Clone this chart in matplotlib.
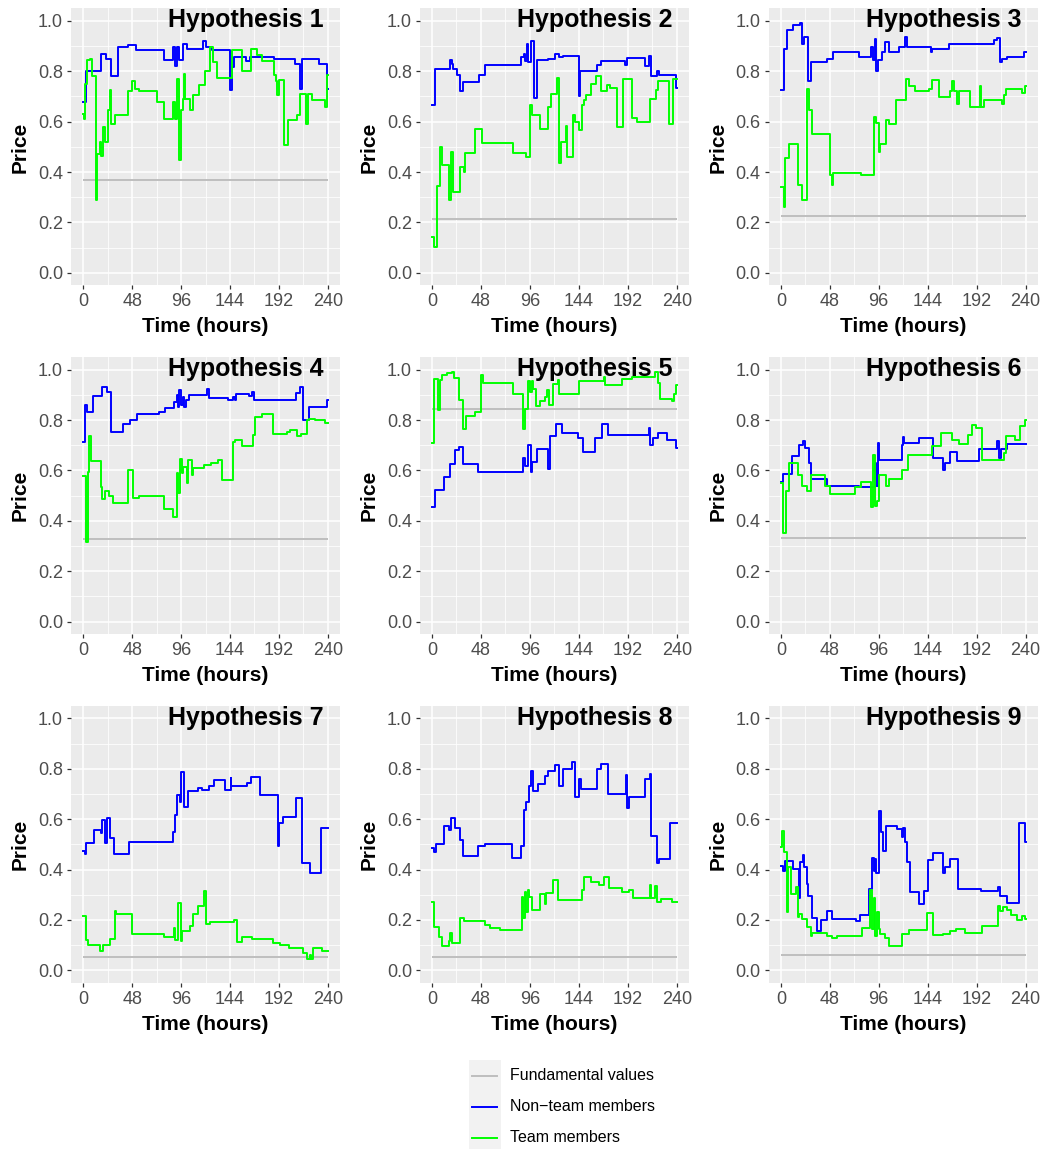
import matplotlib

matplotlib.use("Agg")
import matplotlib.pyplot as plt
from matplotlib.ticker import MultipleLocator

plt.rcParams["font.family"] = ["Liberation Sans", "DejaVu Sans"]

# (hour at which the price level starts, price)
H1_NONTEAM = [(0, .68), (2.6, .80), (17, .87), (22, .85), (27, .78), (34, .897), (44, .906), (52, .886),
              (79, .844), (88, .897), (90, .82), (92, .897), (94, .844), (98, .91), (102, .89), (117, .92),
              (120, .897), (126, .884), (144, .725), (145.5, .817), (148, .857), (160, .84), (164, .857),
              (187, .85), (208, .83), (213, .73), (215, .85), (231, .83), (239, .73)]
H1_TEAM = [(0, .63), (1, .61), (2, .75), (4, .844), (7, .85), (9, .78), (12.5, .29), (14, .47), (16, .52),
           (17, .465), (19, .58), (21, .52), (24.5, .645), (26, .725), (27.5, .59), (31, .626), (43.5, .72),
           (48, .76), (51, .73), (55, .72), (72, .68), (79, .61), (88.5, .68), (90.5, .61), (91.5, .77),
           (94, .447), (96, .645), (98, .69), (99, .79), (100, .69), (105, .645), (108, .705), (114, .745),
           (119, .80), (124.5, .897), (127, .837), (131, .775), (146, .884), (155.5, .80), (165, .89),
           (170, .865), (175, .84), (187, .785), (189, .76), (190, .705), (192, .765), (197, .507),
           (201, .606), (210, .625), (213, .71), (219, .59), (220, .71), (224, .685), (237, .66), (239.5, .785)]

H2_NONTEAM = [(0, .668), (2.6, .81), (18, .843), (19.5, .83), (21, .81), (24.5, .787), (27, .72), (30, .757),
              (46, .787), (52, .823), (87.5, .858), (90, .87), (91, .84), (93, .907), (94.5, .835), (97.5, .92),
              (100.5, .695), (102.5, .843), (113.5, .85), (121, .87), (124.5, .855), (128, .862), (144.5, .70),
              (145.5, .803), (162, .825), (165.5, .84), (189, .826), (191, .854), (208.5, .82), (212.5, .86),
              (214.5, .783), (221, .80), (222.5, .787), (239.5, .734)]
H2_TEAM = [(0, .143), (2, .104), (4.5, .343), (8, .50), (9.5, .43), (17, .29), (19, .48), (20.5, .32),
           (27.5, .42), (31, .40), (32, .475), (42.5, .57), (49, .515), (79, .475), (92.5, .46), (96.5, .668),
           (98, .628), (106, .57), (113.5, .66), (117, .708), (122.5, .774), (124.5, .435), (126.5, .518),
           (131, .584), (132.5, .458), (138.5, .628), (140, .60), (144.5, .568), (147, .668), (149, .685),
           (151, .704), (155.5, .75), (161, .783), (165.5, .72), (171.5, .746), (175, .735), (181.5, .58),
           (187, .768), (196.5, .615), (201, .60), (213.5, .69), (220, .725), (222, .76), (232, .59),
           (236.5, .768)]

H3_NONTEAM = [(0, .725), (3, .89), (6, .963), (11.5, .985), (18.5, .99), (21, .91), (22.5, .935), (26.5, .76),
              (30, .837), (45, .85), (51, .877), (77, .857), (88.5, .897), (90, .845), (92, .93), (93.5, .80),
              (95.5, .845), (99, .877), (102, .917), (106, .877), (115.5, .897), (121.5, .937), (124, .897),
              (147, .877), (148.5, .89), (164.5, .91), (209, .925), (212.5, .934), (214.5, .837), (216.5, .85),
              (222, .857), (239, .877)]
H3_TEAM = [(0, .341), (3, .26), (4.5, .454), (8, .513), (17, .35), (20.5, .288), (26, .728), (27.5, .645),
           (30.5, .553), (48, .388), (50, .348), (51.5, .397), (79, .388), (91, .62), (93.5, .595), (96, .48),
           (97, .513), (103, .606), (106, .59), (113, .685), (122.5, .77), (125.5, .74), (132, .722),
           (145, .73), (148, .767), (155, .698), (165.5, .722), (168, .76), (170, .722), (173, .67),
           (174.5, .722), (186, .659), (195.5, .74), (196.5, .659), (199, .688), (217, .67), (219, .705),
           (221, .73), (237, .715), (239.5, .74)]

H4_NONTEAM = [(0, .713), (2, .859), (3.5, .832), (10, .894), (18, .93), (23.5, .91), (27, .753), (39, .783),
              (46, .80), (53, .823), (74, .832), (80, .848), (89, .87), (91.5, .9), (92.5, .85), (94, .92),
              (95.5, .86), (97.5, .89), (98.5, .85), (101, .88), (103.5, .9), (121, .924), (123.5, .888),
              (142, .878), (146.5, .89), (148.5, .878), (149.5, .905), (163, .895), (165.5, .91), (168, .881),
              (209, .908), (213, .93), (215.5, .80), (221, .852), (239.5, .878)]
H4_TEAM = [(0, .577), (2.5, .317), (5, .594), (6, .736), (8, .638), (17, .535), (18.5, .485), (21, .52),
           (25, .50), (29.5, .472), (43.5, .60), (48.5, .49), (55, .50), (79, .445), (88.5, .416), (91.5, .59),
           (93, .51), (95, .647), (96.5, .59), (98, .614), (101.5, .55), (103, .64), (106.5, .58), (108, .61),
           (118.5, .62), (125, .63), (132, .643), (136.5, .561), (146.5, .713), (149, .72), (155.5, .696),
           (166.5, .74), (168.5, .812), (175, .823), (186.5, .744), (200, .753), (203, .76), (210, .736),
           (214, .744), (219.5, .80), (221, .806), (227.5, .80), (237.5, .789)]

H5_NONTEAM = [(0, .453), (3, .524), (11.5, .572), (18, .624), (23, .683), (26, .694), (30, .625), (45.5, .593),
              (89.5, .651), (91, .617), (94.5, .70), (97, .595), (98, .634), (103, .684), (114, .607),
              (116, .736), (121.5, .783), (127.5, .748), (143.5, .727), (148.5, .674), (160, .73), (167, .783),
              (173, .74), (212.5, .77), (214, .70), (216.5, .73), (222, .75), (230, .72), (239.5, .69)]
H5_TEAM = [(0, .709), (2, .964), (6, .839), (8, .96), (10, .978), (14.5, .985), (20, .99), (22, .965),
           (26, .88), (30.5, .766), (33, .815), (42.5, .83), (48, .98), (50, .948), (79, .905), (89.5, .766),
           (91, .845), (94.5, .955), (96, .91), (98, .955), (99, .925), (102, .855), (106, .875), (111, .89),
           (112.5, .92), (114.5, .86), (118.5, .942), (124, .96), (125, .904), (144.5, .955), (168.5, .97),
           (170, .938), (186.5, .962), (196, .971), (219, .99), (221.5, .945), (223.5, .885), (235.5, .875),
           (237, .905), (239.5, .938)]

H6_NONTEAM = [(0, .553), (2.5, .587), (10.5, .657), (18, .70), (21.5, .716), (23.5, .69), (28, .63),
              (30, .564), (45, .537), (76.5, .533), (92.5, .63), (93.5, .537), (95, .71), (96.5, .643),
              (118.5, .70), (119.5, .733), (121, .707), (136, .73), (149, .65), (159.5, .60), (161, .63),
              (166, .674), (173, .638), (194, .686), (212, .716), (214, .65), (216, .686), (222, .705)]
H6_TEAM = [(0, .551), (2.5, .35), (5.5, .518), (8, .63), (17, .58), (20.5, .538), (26, .52), (29.5, .58),
           (43.5, .538), (48.5, .505), (73, .536), (78.5, .555), (88.5, .455), (90, .66), (92.5, .46),
           (94, .48), (96.5, .58), (103.5, .54), (106.5, .566), (119, .60), (125, .66), (148, .695),
           (157, .75), (168, .72), (174.5, .705), (184, .74), (187.5, .78), (191, .77), (197, .643),
           (218.5, .67), (221, .735), (230, .722), (235, .777), (239.5, .80)]

H7_NONTEAM = [(0, .472), (1.5, .46), (3, .507), (10.5, .555), (17, .545), (18, .597), (21, .505), (23.5, .604),
              (26.5, .525), (30, .462), (45, .511), (52, .508), (88.5, .55), (90, .615), (92, .696),
              (94.5, .67), (96, .789), (99, .647), (103, .713), (113, .725), (116.5, .715), (123, .73),
              (128, .756), (139, .715), (144.5, .765), (145, .73), (160.5, .742), (165, .769), (173.5, .696),
              (191.5, .494), (192.5, .585), (196, .608), (209, .683), (215, .425), (222, .386), (233.5, .564)]
H7_TEAM = [(0, .217), (3, .122), (5, .102), (16.5, .075), (19, .102), (26, .124), (31, .234), (32, .223),
           (48, .145), (79, .132), (89, .168), (90.5, .122), (93, .267), (95.5, .115), (96.5, .157),
           (105, .176), (107.5, .224), (113, .254), (118.5, .313), (120, .185), (124.5, .19), (147.5, .198),
           (150.5, .112), (155.5, .132), (165.5, .125), (186.5, .11), (193, .102), (201.5, .088),
           (215.5, .069), (219.5, .045), (222.5, .062), (223, .045), (225.5, .088), (234, .075)]

H8_NONTEAM = [(0, .485), (1.5, .47), (4, .502), (12, .571), (17, .555), (18.5, .604), (23, .564), (27, .518),
              (30.5, .455), (45.5, .495), (52, .502), (78.5, .444), (87.5, .495), (90.5, .636), (92, .668),
              (95, .73), (97.5, .793), (99, .713), (103.5, .74), (111, .77), (114, .79), (121, .815),
              (124.5, .73), (128.5, .80), (137.5, .828), (140, .687), (144.5, .76), (146, .719), (161.5, .80),
              (165.5, .818), (173, .70), (190, .775), (191, .643), (193.5, .687), (208.5, .758), (213.5, .78),
              (214.5, .532), (221, .428), (223, .443), (233.5, .584)]
H8_TEAM = [(0, .273), (1.5, .174), (6.5, .132), (10, .098), (16.5, .115), (18, .15), (19.5, .108),
           (27.5, .207), (31, .194), (52, .181), (57, .168), (67, .161), (88, .293), (89, .207), (91.5, .312),
           (92.5, .23), (94, .32), (95.5, .293), (98, .238), (105.5, .304), (110.5, .264), (111.5, .307),
           (118.5, .357), (124, .28), (147, .32), (149, .37), (155.5, .35), (163.5, .337), (168.5, .37),
           (173.5, .326), (186, .309), (193, .317), (197, .288), (213.5, .337), (215, .288), (219, .333),
           (221, .273), (224.5, .284), (235.5, .27)]

H9_NONTEAM = [(0, .416), (2, .396), (4, .433), (11.5, .402), (17.5, .286), (19, .43), (21.5, .459), (23, .41),
              (25.5, .343), (27, .296), (30.5, .207), (35, .158), (39, .198), (45, .237), (50, .202),
              (74, .194), (78, .22), (86, .323), (89, .445), (91, .396), (92.5, .44), (93.5, .388), (96, .633),
              (98.5, .55), (100, .475), (103, .574), (114, .56), (119, .53), (120, .564), (121.5, .509),
              (124, .431), (127, .311), (136, .264), (140, .313), (144, .438), (149.5, .466), (159.5, .387),
              (161.5, .41), (165.5, .44), (173.5, .323), (196, .313), (213, .33), (214.5, .297), (221.5, .268),
              (233.5, .584), (239.5, .508)]
H9_TEAM = [(0, .488), (1.5, .554), (3, .47), (6, .231), (7.5, .409), (9.5, .303), (15, .33), (16.5, .211),
           (18, .224), (20.5, .202), (25.5, .172), (29.5, .136), (30.5, .15), (45.5, .136), (50, .129),
           (55.5, .135), (79.5, .168), (87.5, .32), (89.5, .165), (91, .286), (92.5, .138), (94.5, .23),
           (96, .165), (97.5, .145), (102, .128), (106.5, .098), (119, .145), (125.5, .162), (143, .227),
           (149, .141), (159.5, .145), (166, .158), (172, .166), (181, .148), (197.5, .175), (213, .255),
           (214.5, .234), (218, .25), (222, .238), (226, .22), (232, .198), (237, .215), (239.5, .202)]

HYPOTHESES = [1, 2, 3, 4, 5, 6, 7, 8, 9]
FUNDAMENTAL = [0.37, 0.214, 0.226, 0.328, 0.842, 0.330, 0.055, 0.055, 0.059]
NONTEAM = [H1_NONTEAM, H2_NONTEAM, H3_NONTEAM, H4_NONTEAM, H5_NONTEAM,
           H6_NONTEAM, H7_NONTEAM, H8_NONTEAM, H9_NONTEAM]
TEAM = [H1_TEAM, H2_TEAM, H3_TEAM, H4_TEAM, H5_TEAM, H6_TEAM, H7_TEAM, H8_TEAM, H9_TEAM]
T_END = 240
LEGEND_LABELS = ["Fundamental values", "Non\u2212team members", "Team members"]
COLORS = {"fund": "#BEBEBE", "nonteam": "#0000FF", "team": "#00FF00"}


def step_line(ax, pts, color):
    t = [p[0] for p in pts] + [T_END]
    v = [p[1] for p in pts] + [pts[-1][1]]
    ax.step(t, v, where="post", color=color, lw=1.4, zorder=3)


fig, axes = plt.subplots(3, 3, figsize=(10.44, 11.49), dpi=100)
fig.subplots_adjust(left=0.068, right=0.994, top=0.9928, bottom=0.1445,
                    wspace=0.296, hspace=0.258)

for i, ax in enumerate(axes.flat):
    ax.set_facecolor("#EBEBEB")
    ax.hlines(FUNDAMENTAL[i], 0, T_END, color=COLORS["fund"], lw=1.4, zorder=2)
    step_line(ax, NONTEAM[i], COLORS["nonteam"])
    step_line(ax, TEAM[i], COLORS["team"])

    ax.set_xlim(-12, 252)
    ax.set_ylim(-0.05, 1.05)
    ax.xaxis.set_major_locator(MultipleLocator(48))
    ax.xaxis.set_minor_locator(MultipleLocator(24))
    ax.yaxis.set_major_locator(MultipleLocator(0.2))
    ax.yaxis.set_minor_locator(MultipleLocator(0.1))
    ax.yaxis.set_major_formatter(lambda y, _: f"{y:.1f}")
    ax.grid(which="major", color="white", lw=1.1, zorder=0)
    ax.grid(which="minor", color="white", lw=0.55, zorder=0)
    ax.set_axisbelow(True)
    for s in ax.spines.values():
        s.set_visible(False)
    ax.tick_params(which="major", length=3.2, width=0.9, color="#333333",
                   labelcolor="#4D4D4D", labelsize=13, pad=2.5)
    ax.tick_params(which="minor", length=0)
    ax.set_xlabel("Time (hours)", fontsize=15, fontweight="bold", labelpad=5)
    ax.set_ylabel("Price", fontsize=15, fontweight="bold", labelpad=6)
    ax.text(236, 0.975, f"Hypothesis {HYPOTHESES[i]}", ha="right", va="baseline",
            fontsize=18, fontweight="bold", clip_on=False, zorder=5)

# legend drawn by hand so the key column gets its grey background
lax = fig.add_axes([469 / 1044, 1 - 1153 / 1149, 32 / 1044, 93 / 1149])
lax.set_facecolor("#F2F2F2")
lax.set_xlim(0, 1)
lax.set_ylim(0, 3)
lax.set_xticks([])
lax.set_yticks([])
for s in lax.spines.values():
    s.set_visible(False)
for k, (label, col) in enumerate(zip(LEGEND_LABELS, [COLORS["fund"], COLORS["nonteam"], COLORS["team"]])):
    y = 2.5 - k
    lax.plot([0.08, 0.86], [y, y], color=col, lw=1.4)
    lax.text(1.28, y, label, va="center", ha="left", fontsize=11.5, color="black", clip_on=False)

fig.savefig("out.png", dpi=100)
